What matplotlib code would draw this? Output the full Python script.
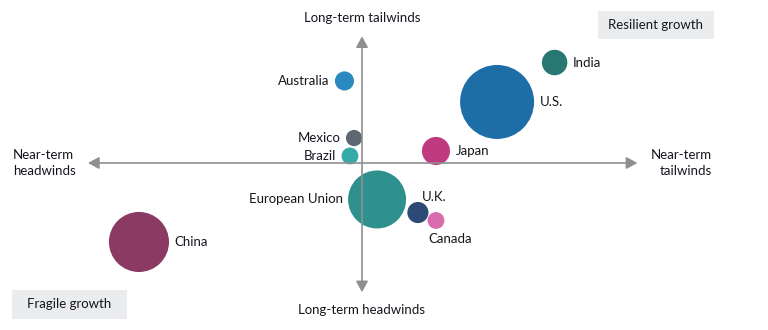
import numpy as np
import matplotlib
matplotlib.use("Agg")
import matplotlib.pyplot as plt
from matplotlib.patches import FancyArrowPatch

# Economies: position on the near-term (x) and long-term (y) outlook scales,
# bubble area proportional to economy size
countries = ["India", "U.S.", "Australia", "Mexico", "Brazil", "Japan",
             "European Union", "U.K.", "Canada", "China"]
near_term = [7.03, 4.93, -0.64, -0.29, -0.44, 2.70, 0.55, 2.04, 2.70, -8.14]
long_term = [7.85, 4.77, 6.41, 1.95, 0.55, 0.94, -2.85, -3.87, -4.49, -6.17]
econ_size = [3.2, 27.0, 1.8, 1.3, 1.4, 3.9, 16.6, 2.2, 1.4, 17.8]
colors = ["#267870", "#1D6EA7", "#2A8ABF", "#5E6873", "#35AAA6", "#C03A80",
          "#2E918D", "#2C4A75", "#D96CAF", "#8A3A63"]

# label placement relative to each bubble
label_side = ["right", "right", "left", "left", "left", "right",
              "left", "above", "below", "right"]

axis_labels = {
    "top": "Long-term tailwinds",
    "bottom": "Long-term headwinds",
    "left": "Near-term\nheadwinds",
    "right": "Near-term\ntailwinds",
}
quadrant_labels = ["Resilient growth", "Fragile growth"]

W, H = 768, 330
fig = plt.figure(figsize=(W / 100, H / 100), dpi=100)
ax = fig.add_axes([0, 0, 1, 1])
ax.set_axis_off()

# axis origin sits at pixel (362, 163); one unit = 27.4 px across, 12.8 px up
ox, oy, ux, uy = 362, 163, 27.4, 12.8
ax.set_xlim(-ox / ux, (W - ox) / ux)
ax.set_ylim((oy - H) / uy, oy / uy)

text_color = "#16161e"
font = "Lato"
fs = 9.5
axis_gray = "#8f8f8f"

# crossing arrows
for (x0, y0, x1, y1) in [(-10, 0, 10.05, 0), (0, -10.1, 0, 9.9)]:
    arr = FancyArrowPatch((x0, y0), (x1, y1),
                          arrowstyle="<|-|>,head_length=0.55,head_width=0.3",
                          mutation_scale=12, color=axis_gray, lw=1.2,
                          shrinkA=0, shrinkB=0, zorder=3)
    ax.add_patch(arr)

# bubbles
r_max_pt = 37 * 0.72
sizes = np.array(econ_size)
s = sizes / sizes.max() * (2 * r_max_pt) ** 2
ax.scatter(near_term, long_term, s=s, c=colors, edgecolors="none", zorder=2)

px = 0.72  # points per pixel
for name, x, y, si, side in zip(countries, near_term, long_term, s, label_side):
    r = np.sqrt(si) / 2
    if side == "right":
        off, ha, va = (r + 5.5 * px, 0), "left", "center"
    elif side == "left":
        off, ha, va = (-(r + 5.5 * px), 0), "right", "center"
    elif side == "above":
        off, ha, va = (4 * px, 16 * px), "left", "center"
    else:
        off, ha, va = (-8 * px, -18.5 * px), "left", "center"
    ax.annotate(name, (x, y), xytext=off, textcoords="offset points",
                ha=ha, va=va, fontsize=fs, family=font, color=text_color,
                zorder=4)

def fx(p):
    return p / W

def fy(p):
    return 1 - p / H

fig.text(fx(362), fy(18), axis_labels["top"], ha="center", va="center",
         fontsize=fs, family=font, color=text_color)
fig.text(fx(362), fy(310), axis_labels["bottom"], ha="center", va="center",
         fontsize=fs, family=font, color=text_color)
fig.text(fx(13), fy(163), axis_labels["left"], ha="left", va="center",
         fontsize=fs, family=font, color=text_color, linespacing=1.4)
fig.text(fx(712), fy(163), axis_labels["right"], ha="right", va="center",
         fontsize=fs, family=font, color=text_color, linespacing=1.4,
         multialignment="right")

# quadrant tags on light gray boxes
for label, (x0, y0, x1, y1) in zip(quadrant_labels,
                                   [(598, 11, 714, 39), (12, 290, 127, 319)]):
    fig.patches.append(plt.Rectangle((fx(x0), fy(y1)), fx(x1 - x0),
                                     (y1 - y0) / H, transform=fig.transFigure,
                                     facecolor="#ebecee", edgecolor="none",
                                     zorder=0))
    fig.text(fx((x0 + x1) / 2), fy((y0 + y1) / 2), label, ha="center",
             va="center", fontsize=fs, family=font, color=text_color)

fig.savefig("out.png", dpi=100)
